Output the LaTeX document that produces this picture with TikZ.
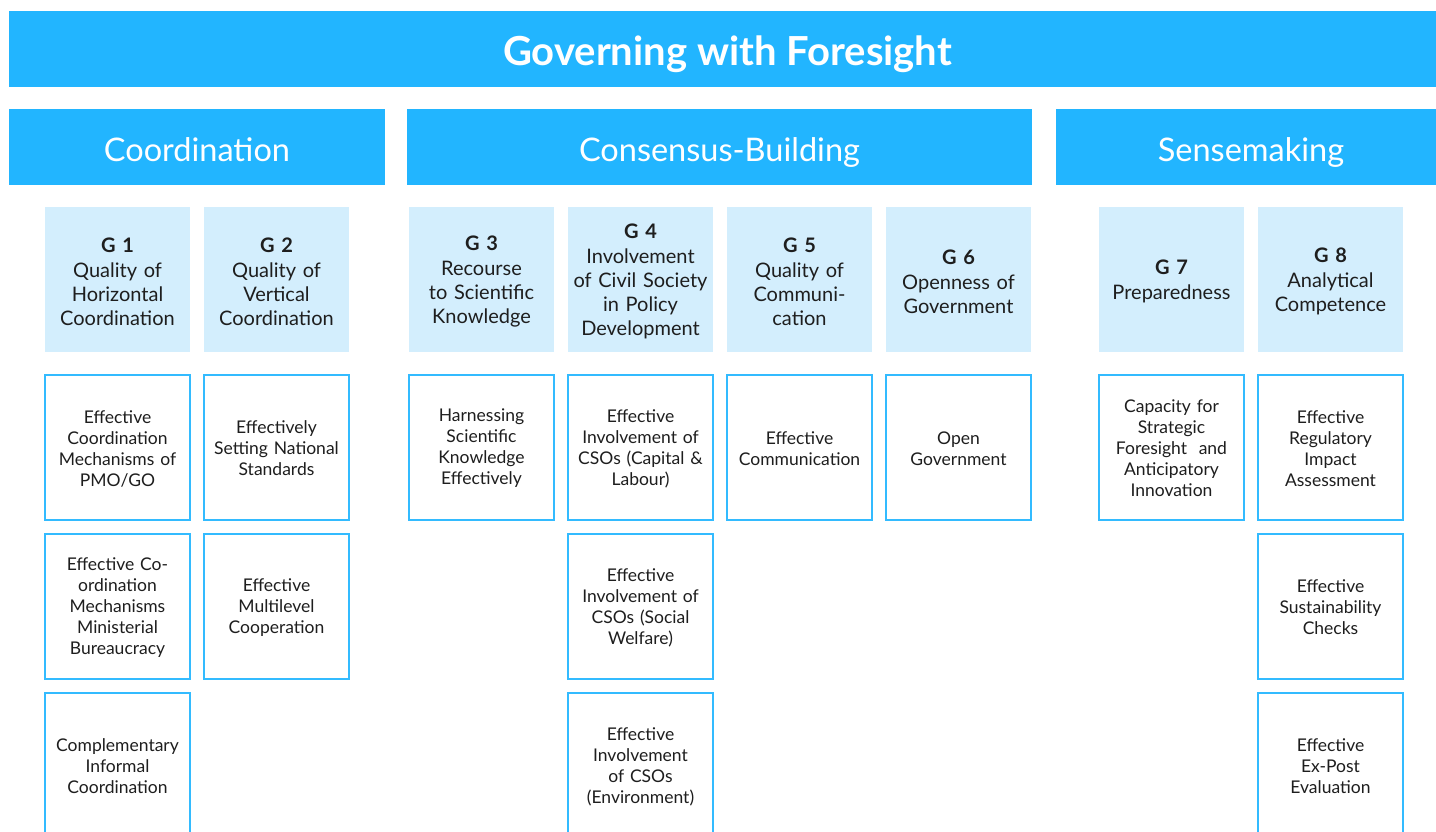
\documentclass[tikz,border=0pt]{standalone}
\usepackage{fontspec}
\setmainfont{Lato}
\usepackage{tikz}
\usetikzlibrary{positioning}

\definecolor{fgblue}{HTML}{22B5FF}
\definecolor{fglight}{HTML}{D3EEFD}
\definecolor{fgline}{HTML}{33BBFF}
\definecolor{fgtext}{HTML}{1E1E1E}

\tikzset{
	bar/.style={fill=fgblue, text=white, anchor=north west, inner sep=0pt, outer sep=0pt,
		minimum height=76pt, text depth=0pt},
	titlebar/.style={bar, minimum width=1437pt, text height=32.6pt, font=\fontsize{40}{44}\selectfont\bfseries},
	catbar/.style={bar, text height=30pt, font=\fontsize{32.5}{36}\selectfont},
	goalbox/.style={fill=fglight, text=fgtext, anchor=north west, inner sep=0pt, outer sep=0pt,
		minimum width=145pt, minimum height=145pt, text width=142pt, align=center,
		font=\fontsize{20}{24}\selectfont, execute at end node={\par\vspace*{-4pt}}},
	itembox/.style={draw=fgline, line width=1.1pt, fill=white, text=fgtext, anchor=north west,
		inner sep=0pt, outer sep=0pt, minimum width=145pt, minimum height=145pt,
		text width=142pt, align=center, font=\fontsize{17.5}{21}\selectfont,
		execute at end node={\par\vspace*{-2pt}}}
}

\begin{document}
\begin{tikzpicture}[x=1pt, y=-1pt]
			%%%%% FRAME %%%%%
			\useasboundingbox (0, 0) rectangle (1436, 832);
			\clip (0, 0) rectangle (1436, 832);
			
			%%%%% HEADERS %%%%%
			\node[titlebar] (title) at (9, 11) {Governing with Foresight};
			
			\node[catbar, minimum width=376pt] (coord) at (9, 109) {Coordination};
			\node[catbar, minimum width=625pt] (consensus) at (407, 109) {Consensus-Building};
			\node[catbar, minimum width=390pt] (sense) at (1056, 109) {Sensemaking};
			
			%%%%% GOALS %%%%%
			\node[goalbox] (g1) at (45, 207) {\textbf{G 1}\\[1pt]Quality of\\Horizontal\\Coordination};
			\node[goalbox] (g2) at (204, 207) {\textbf{G 2}\\[1pt]Quality of\\Vertical\\Coordination};
			\node[goalbox] (g3) at (409, 207) {\textbf{G 3}\\[1pt]Recourse\\to Scientific\\Knowledge};
			\node[goalbox] (g4) at (568, 207) {\textbf{G 4}\\[1pt]Involvement\\of Civil Society\\in Policy\\Development};
			\node[goalbox] (g5) at (727, 207) {\textbf{G 5}\\[1pt]Quality of\\Communi-\\cation};
			\node[goalbox] (g6) at (886, 207) {\textbf{G 6}\\[1pt]Openness of\\Government};
			\node[goalbox] (g7) at (1099, 207) {\textbf{G 7}\\[1pt]Preparedness};
			\node[goalbox] (g8) at (1258, 207) {\textbf{G 8}\\[1pt]Analytical\\Competence};
			
			%%%%% INDICATORS %%%%%
			\node[itembox] (g1a) at (45, 375) {Effective\\Coordination\\Mechanisms of\\PMO/GO};
			\node[itembox] (g1b) at (45, 534) {Effective Co-\\ordination\\Mechanisms\\Ministerial\\Bureaucracy};
			\node[itembox] (g1c) at (45, 693) {Complementary\\Informal\\Coordination};
			
			\node[itembox] (g2a) at (204, 375) {Effectively\\Setting National\\Standards};
			\node[itembox] (g2b) at (204, 534) {Effective\\Multilevel\\Cooperation};
			
			\node[itembox] (g3a) at (409, 375) {Harnessing\\Scientific\\Knowledge\\Effectively};
			
			\node[itembox] (g4a) at (568, 375) {Effective\\Involvement of\\CSOs (Capital \&\\Labour)};
			\node[itembox] (g4b) at (568, 534) {Effective\\Involvement of\\CSOs (Social\\Welfare)};
			\node[itembox] (g4c) at (568, 693) {Effective\\Involvement\\of CSOs\\(Environment)};
			
			\node[itembox] (g5a) at (727, 375) {Effective\\Communication};
			
			\node[itembox] (g6a) at (886, 375) {Open\\Government};
			
			\node[itembox] (g7a) at (1099, 375) {Capacity for\\Strategic\\Foresight\ \ and\\Anticipatory\\Innovation};
			
			\node[itembox] (g8a) at (1258, 375) {Effective\\Regulatory\\Impact\\Assessment};
			\node[itembox] (g8b) at (1258, 534) {Effective\\Sustainability\\Checks};
			\node[itembox] (g8c) at (1258, 693) {Effective\\Ex-Post\\Evaluation};
\end{tikzpicture}
\end{document}
